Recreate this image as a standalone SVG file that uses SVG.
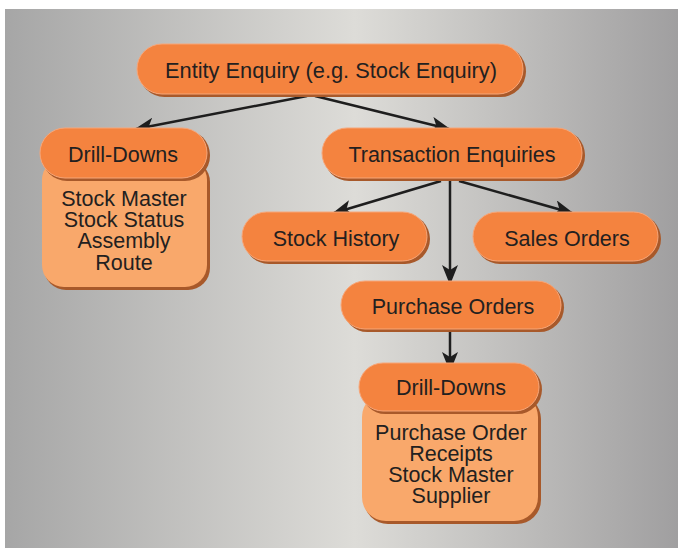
<svg xmlns="http://www.w3.org/2000/svg" width="678" height="548" viewBox="0 0 678 548">
<defs>
<linearGradient id="bg" x1="0" y1="0" x2="1" y2="0">
<stop offset="0" stop-color="#a6a6a6"/>
<stop offset="0.52" stop-color="#dddcd8"/>
<stop offset="1" stop-color="#a09fa0"/>
</linearGradient>
<marker id="ah" viewBox="0 0 20 16" refX="18" refY="8" markerWidth="20" markerHeight="16" markerUnits="userSpaceOnUse" orient="auto">
<path d="M0,0 L20,8 L0,16 L5,8 Z" fill="#1e1e1e"/>
</marker>
</defs>
<style>
.pill{fill:#f4833f;stroke:#f7a679;stroke-width:1}
.shadow{fill:#a8592a}
.body{fill:#f9a86b}
.t{font-family:"Liberation Sans",Arial,sans-serif;font-size:21.5px;fill:#231f20;text-anchor:middle}
.edge{stroke:#1e1e1e;stroke-width:2.5;fill:none}
</style>
<rect x="5" y="9" width="673" height="539" fill="url(#bg)"/>
<g id="connectors">
<path class="edge" d="M307,96 L136,129" marker-end="url(#ah)"/>
<path class="edge" d="M315,96 L449,129" marker-end="url(#ah)"/>
<path class="edge" d="M441,181 L334,213" marker-end="url(#ah)"/>
<path class="edge" d="M459,181 L572,213" marker-end="url(#ah)"/>
<path class="edge" d="M450,181 L450,283" marker-end="url(#ah)"/>
<path class="edge" d="M450,331 L450,370" marker-end="url(#ah)"/>
</g>
<g id="entity-enquiry">
<rect class="shadow" x="139" y="46" width="387" height="51" rx="25.5"/>
<rect class="pill" x="137" y="44" width="386" height="50" rx="25"/>
<text class="t" x="331" y="78" textLength="332" lengthAdjust="spacingAndGlyphs">Entity Enquiry  (e.g. Stock Enquiry)</text>
</g>
<g id="drill-downs-left">
<rect class="shadow" x="44" y="160" width="166" height="130" rx="22"/>
<rect class="body" x="42" y="158" width="165" height="129" rx="22"/>
<rect class="shadow" x="42" y="130" width="168" height="51" rx="25"/>
<rect class="pill" x="40" y="128" width="167" height="50" rx="25"/>
<text class="t" x="123" y="162">Drill-Downs</text>
<text class="t" x="124" y="206">Stock Master</text>
<text class="t" x="124" y="227">Stock Status</text>
<text class="t" x="124" y="248">Assembly</text>
<text class="t" x="124" y="270">Route</text>
</g>
<g id="transaction-enquiries">
<rect class="shadow" x="324" y="130" width="261" height="51" rx="25"/>
<rect class="pill" x="322" y="128" width="260" height="50" rx="25"/>
<text class="t" x="452" y="162">Transaction Enquiries</text>
</g>
<g id="stock-history">
<rect class="shadow" x="244" y="214" width="186" height="50" rx="25"/>
<rect class="pill" x="242" y="212" width="185" height="49" rx="24.5"/>
<text class="t" x="336" y="246">Stock History</text>
</g>
<g id="sales-orders">
<rect class="shadow" x="475" y="214" width="186" height="50" rx="25"/>
<rect class="pill" x="473" y="212" width="185" height="49" rx="24.5"/>
<text class="t" x="567" y="246">Sales Orders</text>
</g>
<g id="purchase-orders">
<rect class="shadow" x="343" y="283" width="221" height="49" rx="24.5"/>
<rect class="pill" x="341" y="281" width="220" height="48" rx="24"/>
<text class="t" x="453" y="314">Purchase Orders</text>
</g>
<g id="drill-downs-bottom">
<rect class="shadow" x="364" y="395" width="177" height="129" rx="24"/>
<rect class="body" x="362" y="393" width="176" height="128" rx="24"/>
<rect class="shadow" x="361" y="365" width="181" height="49" rx="24.5"/>
<rect class="pill" x="359" y="363" width="180" height="48" rx="24"/>
<text class="t" x="451" y="395">Drill-Downs</text>
<text class="t" x="451" y="440">Purchase Order</text>
<text class="t" x="451" y="461">Receipts</text>
<text class="t" x="451" y="482">Stock Master</text>
<text class="t" x="451" y="503">Supplier</text>
</g>
</svg>
